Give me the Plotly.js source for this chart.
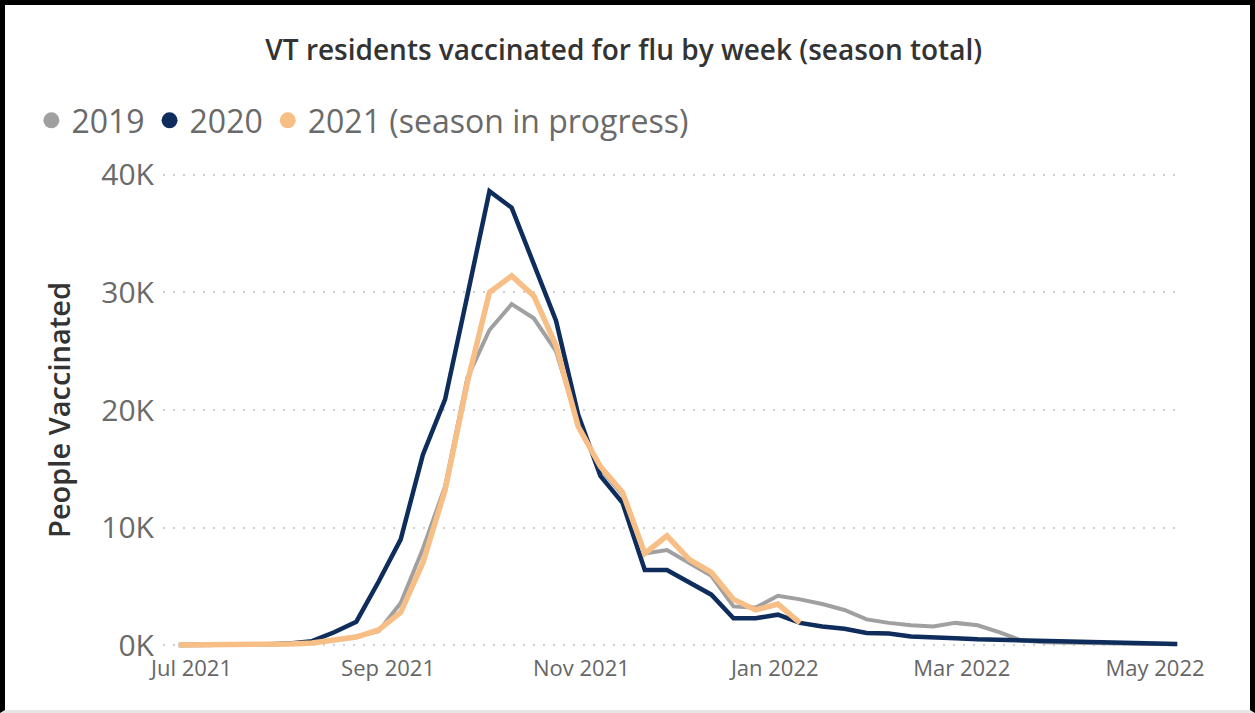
<!DOCTYPE html>
<html>
<head>
<meta charset="utf-8">
<script src="https://cdn.plot.ly/plotly-3.0.1.min.js"></script>
<style>
  html, body { margin: 0; padding: 0; background: #ffffff; }
  #wrap { position: relative; width: 1255px; height: 713px; overflow: hidden; }
  #chart { position: absolute; left: 0; top: 0; width: 1255px; height: 713px; }
  #frame { position: absolute; left: 0; top: 0; width: 1255px; height: 713px; box-sizing: border-box;
           border-top: 5px solid #000; border-left: 5px solid #000; border-right: 5px solid #000;
           border-bottom: 3px solid #e6e6e6; pointer-events: none; }
</style>
</head>
<body>
<div id="wrap">
  <div id="chart"></div>
  <div id="frame"></div>
</div>
<script>
// Week dates (season week axis, shown against the 2021-22 calendar)
const weeks = [
  "2021-06-27","2021-07-04","2021-07-11","2021-07-18","2021-07-25",
  "2021-08-01","2021-08-08","2021-08-15","2021-08-22","2021-08-29",
  "2021-09-05","2021-09-12","2021-09-19","2021-09-26",
  "2021-10-03","2021-10-10","2021-10-17","2021-10-24","2021-10-31",
  "2021-11-07","2021-11-14","2021-11-21","2021-11-28",
  "2021-12-05","2021-12-12","2021-12-19","2021-12-26",
  "2022-01-02","2022-01-09","2022-01-16","2022-01-23","2022-01-30",
  "2022-02-06","2022-02-13","2022-02-20","2022-02-27",
  "2022-03-06","2022-03-13","2022-03-20","2022-03-27",
  "2022-04-03","2022-04-10","2022-04-17","2022-04-24",
  "2022-05-01","2022-05-08"
];

// People vaccinated per week
const season2019 = [
  20, 20, 30, 40, 60, 100, 250, 450, 750, 1200,
  3600, 8200, 13500, 22700, 26800, 29000, 27800, 25000, 18800,
  15000, 12800, 7800, 8100, 7000, 5900, 3300, 3200,
  4200, 3900, 3500, 3000, 2200, 1900, 1700, 1600, 1900,
  1700, 1100, 400, 250, 200, 170, 150, 120, 100, 80
];
const season2020 = [
  20, 20, 30, 50, 80, 150, 350, 1100, 2000, 5400,
  9000, 16200, 20900, 29700, 38600, 37200, 32400, 27600, 19600,
  14400, 12100, 6400, 6400, 5300, 4300, 2300, 2300,
  2600, 1900, 1600, 1400, 1050, 1000, 750, 700, 600,
  500, 450, 380, 330, 280, 240, 200, 170, 130, 100
];
const season2021 = [
  20, 20, 30, 40, 60, 100, 200, 400, 700, 1300,
  2800, 7000, 13200, 22300, 30000, 31400, 29700, 25500, 18600,
  15200, 13000, 7800, 9300, 7300, 6200, 3900, 3000,
  3500, 1900
];

const seriesNames = ["2019", "2020", "2021 (season in progress)"];
const seriesColors = ["#a0a0a0", "#0f2d5c", "#f7bf86"];
const seriesWidths = [4, 4.5, 5.5];

const xTickVals = ["2021-07-01","2021-09-01","2021-11-01","2022-01-01","2022-03-01","2022-05-01"];
const xTickText = ["Jul 2021","Sep 2021","Nov 2021","Jan 2022","Mar 2022","May 2022"];
const yTickVals = [0, 10000, 20000, 30000, 40000];
const yTickText = ["0K","10K","20K","30K","40K"];

const allSeries = [season2019, season2020, season2021];
const traces = [];
allSeries.forEach((vals, i) => {
  traces.push({
    type: "scatter", mode: "lines",
    x: weeks.slice(0, vals.length), y: vals,
    name: seriesNames[i], showlegend: false, legendgroup: "g" + i,
    line: { color: seriesColors[i], width: seriesWidths[i], shape: "linear" },
    hoverinfo: "x+y+name"
  });
});
// legend entries drawn as dots
allSeries.forEach((vals, i) => {
  traces.push({
    type: "scatter", mode: "markers",
    x: [null], y: [null],
    name: seriesNames[i], legendgroup: "g" + i, showlegend: true,
    marker: { color: seriesColors[i], size: 19, symbol: "circle" }
  });
});

const layout = {
  width: 1255, height: 713,
  paper_bgcolor: "#ffffff", plot_bgcolor: "#ffffff",
  margin: { l: 163, r: 73, t: 163, b: 56 },
  font: { family: "Open Sans, Noto Sans, sans-serif", color: "#666666" },
  title: {
    text: "VT residents vaccinated for flu by week (season total)",
    font: { family: "Open Sans, sans-serif", size: 28, color: "#333333", weight: 600 },
    xref: "container", yref: "container",
    x: 0.497, xanchor: "center", y: 1 - 50 / 713, yanchor: "middle"
  },
  showlegend: true,
  legend: {
    orientation: "h", xref: "container", yref: "container",
    x: 0.025, xanchor: "left", y: 1 - 93 / 713, yanchor: "top",
    font: { family: "Open Sans, sans-serif", size: 32, color: "#6a6a6a" },
    itemwidth: 30, traceorder: "normal", bgcolor: "rgba(0,0,0,0)"
  },
  xaxis: {
    type: "date",
    range: ["2021-06-22", "2022-05-09 12:00"],
    tickmode: "array", tickvals: xTickVals, ticktext: xTickText,
    showgrid: false, zeroline: false, showline: false, ticks: "",
    ticklabelstandoff: -4,
    tickfont: { family: "Open Sans, sans-serif", size: 22, color: "#666666" },
    fixedrange: true
  },
  yaxis: {
    range: [-1000, 41000],
    tickmode: "array", tickvals: yTickVals, ticktext: yTickText,
    showgrid: true, gridcolor: "#cfcfcf", gridwidth: 2, griddash: "2px,8px",
    zeroline: false, showline: false, ticks: "", ticklabelstandoff: 8,
    tickfont: { family: "Open Sans, sans-serif", size: 30, color: "#6a6a6a" },
    title: {
      text: "People Vaccinated", standoff: 22,
      font: { family: "Open Sans, sans-serif", size: 29, color: "#333333", weight: 600 }
    },
    fixedrange: true
  }
};

Plotly.newPlot("chart", traces, layout, { displayModeBar: false, staticPlot: true });
</script>
</body>
</html>
